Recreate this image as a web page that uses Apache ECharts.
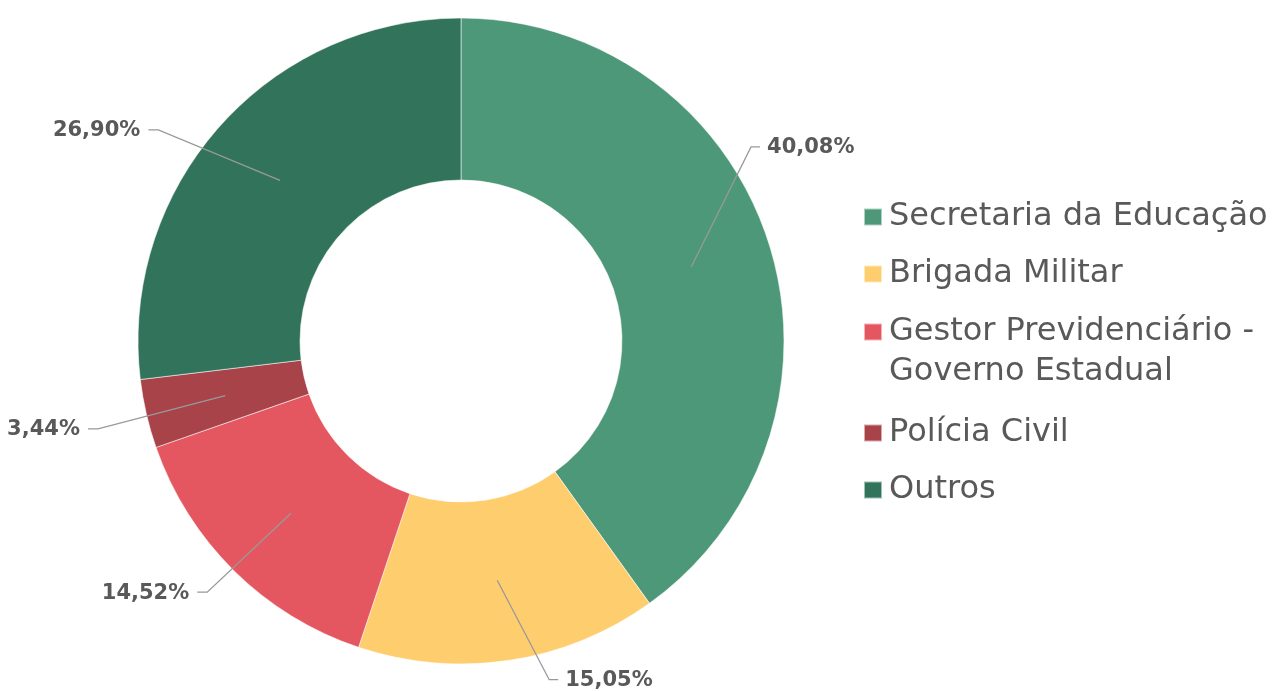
<!DOCTYPE html>
<html>
<head>
<meta charset="utf-8">
<script src="https://cdn.jsdelivr.net/npm/echarts@6/dist/echarts.min.js"></script>
<style>
  html, body { margin: 0; padding: 0; background: #ffffff; }
  #chart { width: 1273px; height: 691px; }
</style>
</head>
<body>
<div id="chart"></div>
<script>
// Shares by employer (%)
const categories = [
  'Secretaria da Educação',
  'Brigada Militar',
  'Gestor Previdenciário - Governo Estadual',
  'Polícia Civil',
  'Outros'
];
const shares = [40.08, 15.05, 14.52, 3.44, 26.90];
const colors = ['#4D9878', '#FECD6E', '#E55760', '#A8434A', '#32735B'];

// Ring geometry
const CENTER = [461, 341];
const R_IN = 161;
const R_OUT = 323;
// Leader-line elbows: [angle clockwise from 12 o'clock (deg), distance from centre (px)]
const elbows = [[56.2, 349], [165.4, 350], [225.3, 357], [256.4, 373.5], [304.9, 369]];

const total = shares.reduce((a, b) => a + b, 0);
const midAngles = [];
let acc = 0;
shares.forEach(v => { midAngles.push((acc + v / 2) / total * 360); acc += v; });

function polar(deg, r) {
  const a = deg * Math.PI / 180;
  return [CENTER[0] + r * Math.sin(a), CENTER[1] - r * Math.cos(a)];
}

// Leader line runs from the middle of the ring to an elbow, then a short horizontal tail
function placeLabel(params) {
  const i = params.dataIndex;
  const start = polar(midAngles[i], (R_IN + R_OUT) / 2);
  const elbow = polar(elbows[i][0], elbows[i][1]);
  const right = elbow[0] > CENTER[0];
  const end = [elbow[0] + (right ? 9 : -10), elbow[1]];
  return {
    x: end[0] + (right ? 7 : -8),
    y: end[1] + 1,
    align: right ? 'left' : 'right',
    verticalAlign: 'middle',
    labelLinePoints: [start, elbow, end]
  };
}

const legendText = {
  fontFamily: 'DejaVu Sans',
  fontSize: 32,
  color: '#595959',
  lineHeight: 40,
  padding: [0, 0, 0, 2]
};
const legendBase = {
  orient: 'vertical',
  left: 863,
  padding: 0,
  itemWidth: 18,
  itemHeight: 17,
  itemGap: 17,
  icon: 'rect',
  selectedMode: false,
  textStyle: legendText
};

const sliceData = categories.map((name, i) => ({ name: name, value: shares[i], itemStyle: { color: colors[i] } }));

const chart = echarts.init(document.getElementById('chart'), null, { renderer: 'canvas' });
chart.setOption({
  backgroundColor: '#ffffff',
  animation: false,
  legend: [
    Object.assign({}, legendBase, { top: 197, data: [categories[0], categories[1]] }),
    // leading blank line keeps the marker level with the first text line
    Object.assign({}, legendBase, {
      top: 272,
      data: [categories[2]],
      formatter: n => '\n' + n.replace(' - ', ' -\n')
    }),
    Object.assign({}, legendBase, { top: 413, data: [categories[3], categories[4]] })
  ],
  series: [
    {
      type: 'pie',
      z: 2,
      center: CENTER,
      radius: [R_IN, R_OUT],
      startAngle: 90,
      clockwise: true,
      silent: true,
      itemStyle: { borderColor: 'rgba(255,255,255,0.55)', borderWidth: 1 },
      label: { show: false },
      labelLine: { show: false },
      data: sliceData
    },
    {
      // transparent copy of the ring that carries the percentage labels above the slices
      type: 'pie',
      z: 3,
      center: CENTER,
      radius: [R_IN, R_OUT],
      startAngle: 90,
      clockwise: true,
      silent: true,
      avoidLabelOverlap: false,
      itemStyle: { color: 'rgba(0,0,0,0)', borderWidth: 0 },
      label: {
        show: true,
        position: 'outside',
        overflow: 'none',
        formatter: p => p.value.toFixed(2).replace('.', ',') + '%',
        fontFamily: 'DejaVu Sans',
        fontWeight: 'bold',
        fontSize: 21,
        color: '#595959'
      },
      labelLine: { show: true, lineStyle: { color: '#999999', width: 1.3 } },
      labelLayout: placeLabel,
      data: categories.map((name, i) => ({ name: name, value: shares[i] }))
    }
  ]
});
</script>
</body>
</html>
